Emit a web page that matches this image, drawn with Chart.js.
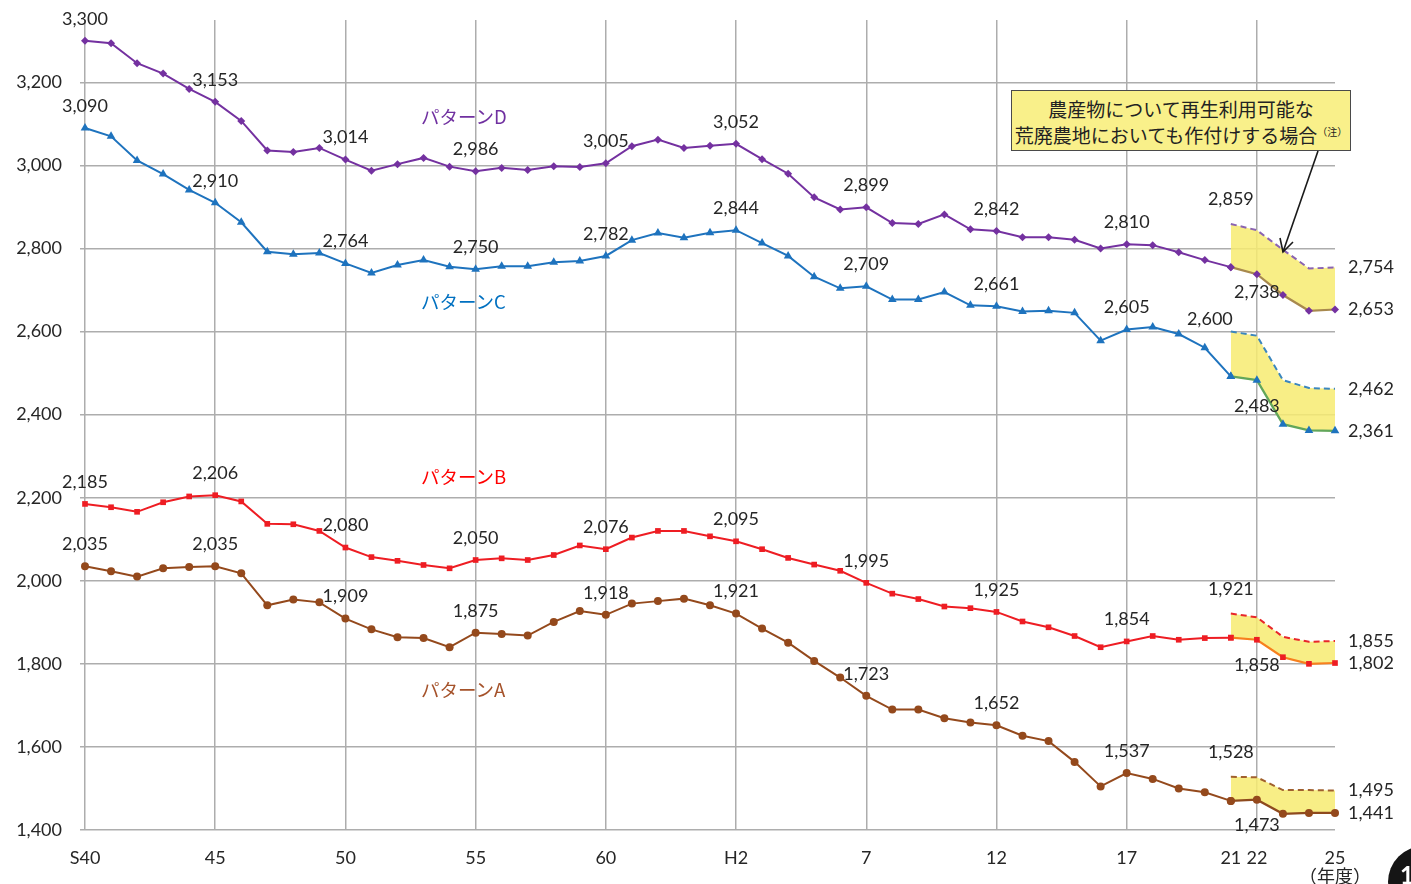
<!DOCTYPE html>
<html>
<head>
<meta charset="utf-8">
<script src="https://cdn.jsdelivr.net/npm/chart.js@4.4.1/dist/chart.umd.min.js"></script>
<style>
html,body{margin:0;padding:0;background:#fff;overflow:hidden;}
#wrap{position:relative;width:1411px;height:884px;overflow:hidden;background:#fff;}
#c{position:absolute;left:0;top:0;}
.slabel{position:absolute;font-family:'Noto Sans CJK JP',sans-serif;font-size:18.5px;line-height:1;white-space:nowrap;}
#note{position:absolute;left:1011px;top:90px;width:340px;height:61px;box-sizing:border-box;border:1.5px solid #4a4a4a;background:#F9F08A;
  font-family:'Noto Sans CJK JP',sans-serif;font-size:19px;line-height:26px;color:#222;text-align:center;padding-top:5px;white-space:nowrap;}
#note sup{font-size:10px;vertical-align:7px;line-height:0;}
#arrow{position:absolute;left:0;top:0;pointer-events:none;}
#badge{position:absolute;left:1388px;top:846px;width:72px;height:72px;border-radius:50%;background:#151515;color:#fff;
  font-family:Lato,sans-serif;font-weight:bold;font-size:24px;}
#badge span{position:absolute;left:12px;top:14px;}
</style>
</head>
<body>
<div id="wrap">
  <canvas id="c" width="1411" height="884"></canvas>
  <div class="slabel" style="left:421px;top:107px;color:#7030A0;">パターンD</div>
  <div class="slabel" style="left:421px;top:292px;color:#0070C0;">パターンC</div>
  <div class="slabel" style="left:421px;top:467px;color:#FF0000;">パターンB</div>
  <div class="slabel" style="left:421px;top:680px;color:#A5522A;">パターンA</div>
  <div id="note">農産物について再生利用可能な<br>荒廃農地においても作付けする場合<sup>（注）</sup></div>
  <svg id="arrow" width="1411" height="884">
    <line x1="1318" y1="151" x2="1283" y2="252" stroke="#1a1a1a" stroke-width="1.6"/>
    <polyline points="1280,238 1283,252 1293,242" fill="none" stroke="#1a1a1a" stroke-width="1.6"/>
  </svg>
  <div id="badge"><span>1</span></div>
</div>
<script>
// ---- categories (fiscal years, Showa 40 – Heisei 25) ----
const categories = ['S40','41','42','43','44','45','46','47','48','49','50','51','52','53','54','55','56','57','58','59','60','61','62','63',
  'H1','H2','3','4','5','6','7','8','9','10','11','12','13','14','15','16','17','18','19','20','21','22','23','24','25'];
const shownTicks = ['S40','45','50','55','60','H2','7','12','17','21','22','25'];
const gridTicks = ['S40','45','50','55','60','H2','7','12','17','22'];
const bandCats = ['21','22','23','24','25'];

// ---- series values ----
const patternD = [3300,3294,3246,3221,3184,3153,3107,3036,3032,3042,3014,2987,3003,3018,2997,2986,2994,2989,2998,2996,
  3005,3046,3062,3042,3047,3052,3015,2980,2923,2894,2899,2861,2859,2882,2846,2842,2827,2827,2821,2800,2810,2808,2791,2772,2755,2738,2688,2650,2653];
const patternDUpper = [2859,2844,2797,2752,2754];

const patternC = [3090,3070,3012,2979,2941,2910,2863,2792,2786,2789,2764,2741,2760,2772,2756,2750,2757,2757,2767,2770,
  2782,2820,2837,2826,2838,2844,2813,2782,2732,2704,2709,2677,2677,2695,2663,2661,2648,2650,2645,2578,2605,2611,2594,2561,2492,2483,2377,2362,2361];
const patternCUpper = [2600,2590,2483,2464,2462];

const patternB = [2185,2177,2166,2189,2203,2206,2191,2137,2136,2120,2080,2057,2048,2038,2030,2050,2054,2050,2062,2085,
  2076,2104,2120,2120,2107,2095,2076,2055,2039,2024,1995,1969,1956,1938,1934,1925,1902,1888,1867,1840,1854,1867,1858,1862,1863,1858,1816,1800,1802];
const patternBUpper = [1921,1912,1865,1853,1855];

const patternA = [2035,2023,2010,2030,2033,2035,2018,1941,1955,1948,1909,1883,1864,1862,1840,1875,1872,1868,1901,1927,
  1918,1945,1951,1957,1941,1921,1885,1851,1807,1767,1723,1690,1690,1669,1659,1652,1627,1614,1564,1505,1537,1523,1500,1491,1470,1473,1439,1441,1441];
const patternAUpper = [1528,1527,1496,1496,1495];

const yTicks = [1400,1600,1800,2000,2200,2400,2600,2800,3000,3200];

// which values carry a number label, and where
const labelSpecs = [
  {key:'D',i:0},{key:'D',i:5},{key:'D',i:10},{key:'D',i:15},{key:'D',i:20},{key:'D',i:25},{key:'D',i:30},{key:'D',i:35},{key:'D',i:40},
  {key:'Dlow',i:45,pos:'below',d:18},{key:'Dlow',i:48,pos:'right'},{key:'Dup',i:44,d:25},{key:'Dup',i:48,pos:'right'},
  {key:'C',i:0},{key:'C',i:5},{key:'C',i:10},{key:'C',i:15},{key:'C',i:20},{key:'C',i:25},{key:'C',i:30},{key:'C',i:35},{key:'C',i:40},
  {key:'Clow',i:45,pos:'below',d:26},{key:'Clow',i:48,pos:'right'},{key:'Cup',i:44,d:12,dx:-21},{key:'Cup',i:48,pos:'right'},
  {key:'B',i:0},{key:'B',i:5},{key:'B',i:10},{key:'B',i:15},{key:'B',i:20},{key:'B',i:25},{key:'B',i:30},{key:'B',i:35},{key:'B',i:40},
  {key:'Blow',i:45,pos:'below',d:25},{key:'Blow',i:48,pos:'right'},{key:'Bup',i:44,d:24},{key:'Bup',i:48,pos:'right'},
  {key:'A',i:0},{key:'A',i:5},{key:'A',i:10},{key:'A',i:15},{key:'A',i:20},{key:'A',i:25},{key:'A',i:30},{key:'A',i:35},{key:'A',i:40},
  {key:'Alow',i:45,pos:'below',d:26},{key:'Alow',i:48,pos:'right'},{key:'Aup',i:44,d:25},{key:'Aup',i:48,pos:'right'}
];

const bandStart = categories.indexOf(bandCats[0]);
function padUpper(arr){ return categories.map((c,i)=> i>=bandStart ? arr[i-bandStart] : null); }

const series = [
  {key:'D', data:patternD, upper:patternDUpper, color:'#7431A0', low:'#A8894E', dash:'#8A63B2', style:'rectRot', r:4},
  {key:'C', data:patternC, upper:patternCUpper, color:'#1E73BE', low:'#62A65A', dash:'#3B86BE', style:'triangle', r:5},
  {key:'B', data:patternB, upper:patternBUpper, color:'#EE1D23', low:'#F7801E', dash:'#E8262A', style:'rect', r:4},
  {key:'A', data:patternA, upper:patternAUpper, color:'#94491C', low:'#8E4A1E', dash:'#A0602E', style:'circle', r:4}
];

const datasets = [];
series.forEach(s=>{
  datasets.push({key:s.key, data:s.data.map((v,i)=> i<=bandStart ? v : null),
    borderColor:s.color, backgroundColor:s.color, borderWidth:2, pointStyle:s.style, pointRadius:s.r,
    pointBackgroundColor:s.color, pointBorderColor:s.color, pointBorderWidth:0, tension:0, fill:false, order:1});
  const lowIdx = datasets.length;
  datasets.push({key:s.key+'low', data:s.data.map((v,i)=> i>=bandStart ? v : null),
    borderColor:s.low, backgroundColor:s.color, borderWidth:2.2, pointStyle:s.style, pointRadius:s.r,
    pointBackgroundColor:s.color, pointBorderColor:s.color, pointBorderWidth:0, tension:0, fill:false, order:0});
  datasets.push({key:s.key+'up', data:padUpper(s.upper),
    borderColor:s.dash, borderDash:[6,4], borderWidth:2, pointRadius:0, tension:0,
    fill:{target:lowIdx}, backgroundColor:'rgba(247,235,113,0.85)', order:2});
});

const gridColor = '#ADADAD';
const tickFont = {family:'Lato, "Noto Sans CJK JP", sans-serif', size:18, lineHeight:1.05};

const valueLabels = {
  id:'valueLabels',
  afterDatasetsDraw(chart){
    const ctx = chart.ctx;
    ctx.save();
    ctx.font = '18px Lato, "Noto Sans CJK JP", sans-serif';
    ctx.fillStyle = '#262626';
    ctx.textBaseline = 'middle';
    labelSpecs.forEach(s=>{
      const di = chart.data.datasets.findIndex(d=>d.key===s.key);
      const meta = chart.getDatasetMeta(di);
      const el = meta.data[s.i];
      const v = chart.data.datasets[di].data[s.i];
      if(!el || v===null) return;
      const txt = v.toLocaleString('en-US');
      let x = el.x, y = el.y;
      const pos = s.pos || 'above';
      if(pos==='above'){ ctx.textAlign='center'; x += (s.dx||0); y -= (s.d||22); }
      else if(pos==='below'){ ctx.textAlign='center'; x += (s.dx||0); y += (s.d||26); }
      else { ctx.textAlign='left'; x += 13; }
      ctx.fillText(txt, x, y);
    });
    ctx.restore();
  }
};

new Chart(document.getElementById('c'), {
  type:'line',
  data:{labels:categories, datasets:datasets},
  plugins:[valueLabels],
  options:{
    responsive:false,
    animation:false,
    events:[],
    layout:{padding:{top:20,right:76,bottom:0,left:0}},
    plugins:{legend:{display:false}, tooltip:{enabled:false}, title:{display:false}},
    scales:{
      x:{
        type:'category',
        offset:false,
        border:{display:false},
        grid:{drawTicks:false, lineWidth:1.5, color:(c)=> gridTicks.includes(categories[c.index]) ? gridColor : 'rgba(0,0,0,0)'},
        ticks:{autoSkip:false, maxRotation:0, minRotation:0, padding:19, color:'#262626', font:tickFont,
          callback:function(value){ const lab = categories[value]; if(!shownTicks.includes(lab)) return ''; return lab==='25' ? ['25','（年度）'] : lab; }},
        afterFit:(scale)=>{ scale.height = 54; scale.paddingLeft = 0; scale.paddingRight = 0; }
      },
      y:{
        min:1400, max:3350,
        border:{display:false},
        grid:{color:gridColor, lineWidth:1.5, tickLength:5, drawTicks:true},
        ticks:{stepSize:200, padding:18, color:'#262626', font:{family:'Lato, sans-serif', size:18},
          callback:(v)=> v.toLocaleString('en-US')},
        afterBuildTicks:(scale)=>{ scale.ticks = scale.ticks.filter(t=> yTicks.includes(t.value)); },
        afterFit:(scale)=>{ scale.width = 85; scale.paddingTop = 0; scale.paddingBottom = 0; }
      }
    }
  }
});
</script>
</body>
</html>
